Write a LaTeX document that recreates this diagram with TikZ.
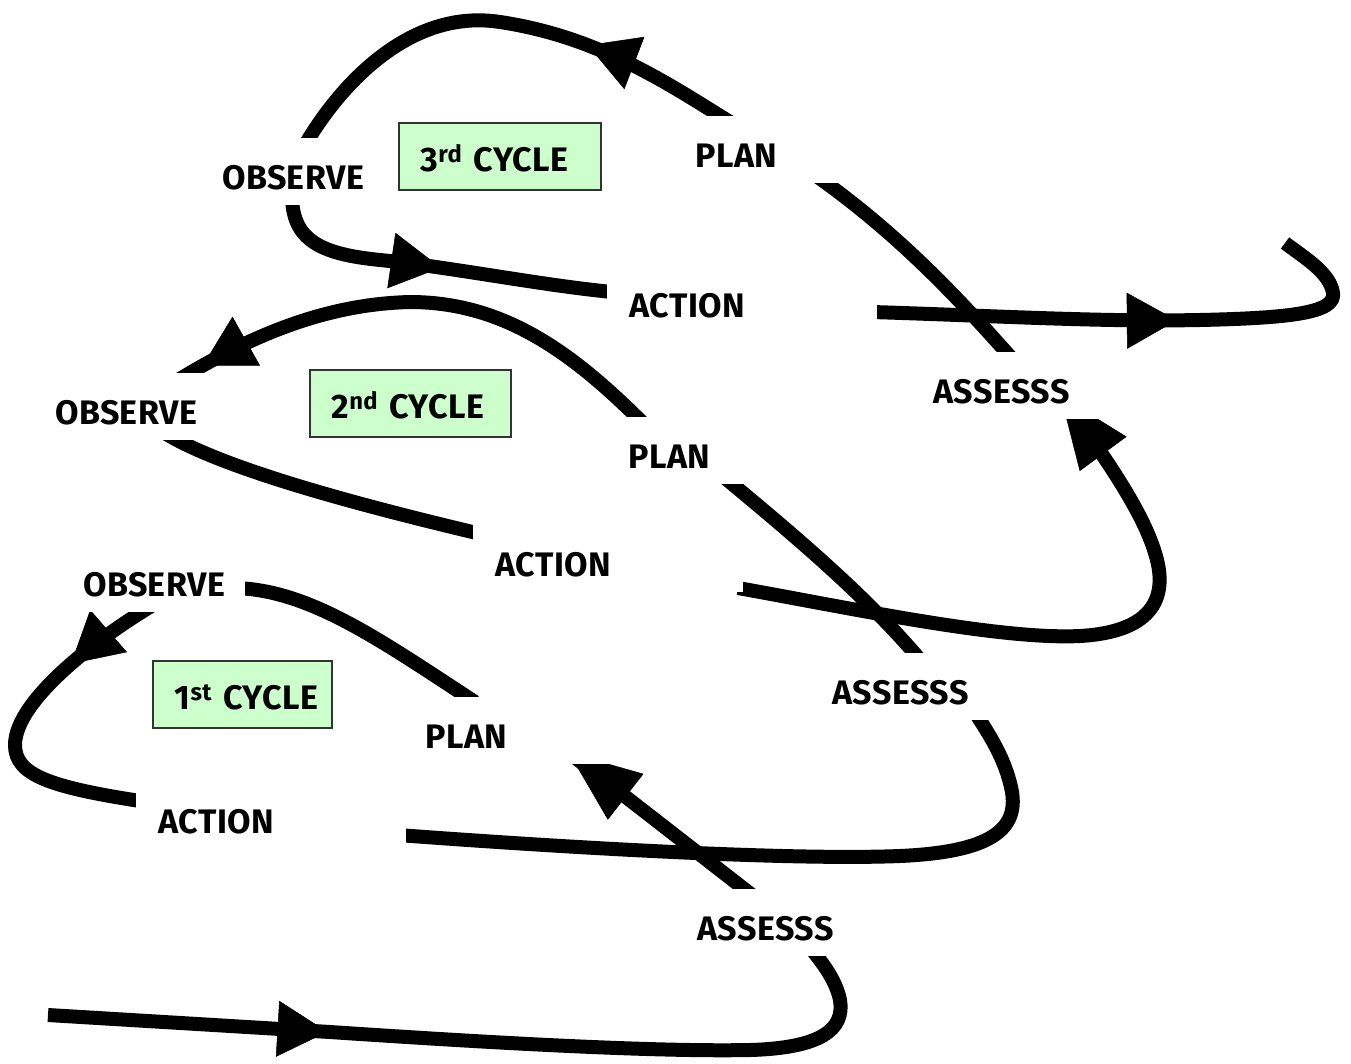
\documentclass[tikz,border=0pt]{standalone}
\usepackage{fontspec}
\setmainfont{Fira Sans}[LetterSpace=1.5]
\usetikzlibrary{arrows.meta,decorations.markings,backgrounds}
\definecolor{cyclegreen}{HTML}{CCFFCC}
\definecolor{cycleedge}{HTML}{333333}

\begin{document}
\begin{tikzpicture}[x=1pt,y=-1pt,
  lblfont/.style={font=\fontsize{34}{40}\selectfont\bfseries},
  % white label boxes that cut the thick curves where they meet a word
  lbl/.style={lblfont, fill=white, anchor=north west, inner xsep=22pt, inner ysep=0pt,
              text height=51.5pt, text depth=15.5pt, align=left},
  obsbox/.style={lbl, text width=140pt},
  planbox/.style={lbl, text width=200pt},
  actbox/.style={lbl, text width=226pt},
  assbox/.style={lbl, text width=170pt},
  cyclebox/.style={lblfont, fill=cyclegreen, draw=cycleedge, line width=1.5pt,
              anchor=north west, inner xsep=22pt, inner ysep=0pt,
              text height=49pt, text depth=18pt, align=left, text width=#1},
  flow/.style={line width=14pt, line cap=butt, line join=round},
  tipat/.style={postaction={decorate}, decoration={markings,
      mark=at position #1 with {\arrow{Triangle[length=50pt,width=56pt,line width=0.5pt]}}}},
  longtip/.style={postaction={decorate}, decoration={markings,
      mark=at position -1pt with {\arrow{Triangle[length=72pt,width=58pt,line width=0.5pt]}}}},
]
\useasboundingbox (0,0) rectangle (1351,1063);

% third cycle
\node[obsbox]  (obs3)  at (200,138) {OBSERVE};
\node[planbox] (plan3) at (673,116) {PLAN};
\node[actbox]  (act3)  at (607,266) {ACTION};
\node[assbox]  (ass3)  at (911,352) {ASSESSS};
\node[cyclebox=158pt] (cyc3) at (398,122) {\mbox{3\textsuperscript{rd} CYCLE}};

% second cycle
\node[obsbox]  (obs2)  at (33,373)  {OBSERVE};
\node[planbox] (plan2) at (606,417) {PLAN};
\node[actbox]  (act2)  at (473,525) {ACTION};
\node[assbox]  (ass2)  at (810,653) {ASSESSS};
\node[cyclebox=157pt] (cyc2) at (309,369) {\mbox{2\textsuperscript{nd} CYCLE}};

% first cycle
\node[obsbox]  (obs1)  at (61,545)  {OBSERVE};
\node[planbox] (plan1) at (403,697) {PLAN};
\node[actbox]  (act1)  at (136,782) {ACTION};
\node[assbox]  (ass1)  at (675,889) {ASSESSS};
\node[cyclebox=135pt] (cyc1) at (152,660) {\mbox{1\textsuperscript{st} CYCLE}};

\coordinate (entrypt) at (48,1015);
\coordinate (exitpt)  at (1285,243);

\begin{scope}[on background layer]
\fill[white] (0,0) rectangle (1351,1063);

% way in
\draw[flow, tipat=280pt] (entrypt) -- (330,1032)
  .. controls (480,1042) and (650,1052) .. (750,1050)
  .. controls (820,1048) and (845,1030) .. (840,1000)
  .. controls (836,980) and (822,962) .. ([shift={(133,56)}]ass1.north west);

% first cycle
\draw[flow, longtip] ([shift={(77,6)}]ass1.north west) -- ([shift={(165,55)}]plan1.north west);
\draw[flow] ([shift={(72,5)}]plan1.north west)
  .. controls (380,640) and (310,590) .. ([shift={(174,43)}]obs1.north west);
\draw[flow, tipat=115pt] ([shift={(104,53)}]obs1.north west)
  .. controls (100,635) and (15,700) .. (15,745)
  .. controls (15,775) and (50,787) .. ([shift={(4,19)}]act1.north west);
\draw[flow] ([shift={(262,53)}]act1.north west)
  .. controls (600,850) and (800,860) .. (900,856)
  .. controls (990,852) and (1018,830) .. (1012,792)
  .. controls (1006,760) and (990,735) .. ([shift={(160,52)}]ass2.north west);

% second cycle
\draw[flow] ([shift={(112,9)}]ass2.north west)
  .. controls (870,600) and (800,540) .. ([shift={(119,61)}]plan2.north west);
\draw[flow, tipat=-38pt] ([shift={(42,11)}]plan2.north west)
  .. controls (580,360) and (510,302) .. (410,302)
  .. controls (330,304) and (255,332) .. ([shift={(137,12)}]obs2.north west);
\draw[flow] ([shift={(127,57)}]obs2.north west)
  .. controls (220,470) and (380,510) .. ([shift={(12,10)}]act2.north west);
\draw[flow, longtip] ([shift={(265,63)}]act2.north west)
  .. controls (850,608) and (1000,640) .. (1080,636)
  .. controls (1150,632) and (1167,600) .. (1157,560)
  .. controls (1147,520) and (1115,470) .. ([shift={(149,43)}]ass3.north west);

% third cycle
\draw[flow] ([shift={(104,10)}]ass3.north west)
  .. controls (960,300) and (900,235) .. ([shift={(142,59)}]plan3.north west);
\draw[flow, tipat=162pt] ([shift={(57,6)}]plan3.north west)
  .. controls (670,85) and (600,37) .. (500,22)
  .. controls (410,8) and (340,85) .. ([shift={(105,7)}]obs3.north west);
\draw[flow, tipat=185pt] ([shift={(92,57)}]obs3.north west)
  .. controls (292,240) and (320,254) .. (380,260)
  .. controls (450,267) and (540,285) .. ([shift={(5,26)}]act3.north west);

% way out
\draw[flow, tipat=305pt] ([shift={(265,46)}]act3.north west)
  .. controls (1000,316) and (1100,322) .. (1200,320)
  .. controls (1290,318) and (1336,313) .. (1333,293)
  .. controls (1330,273) and (1305,258) .. (exitpt);
\end{scope}
\end{tikzpicture}
\end{document}
